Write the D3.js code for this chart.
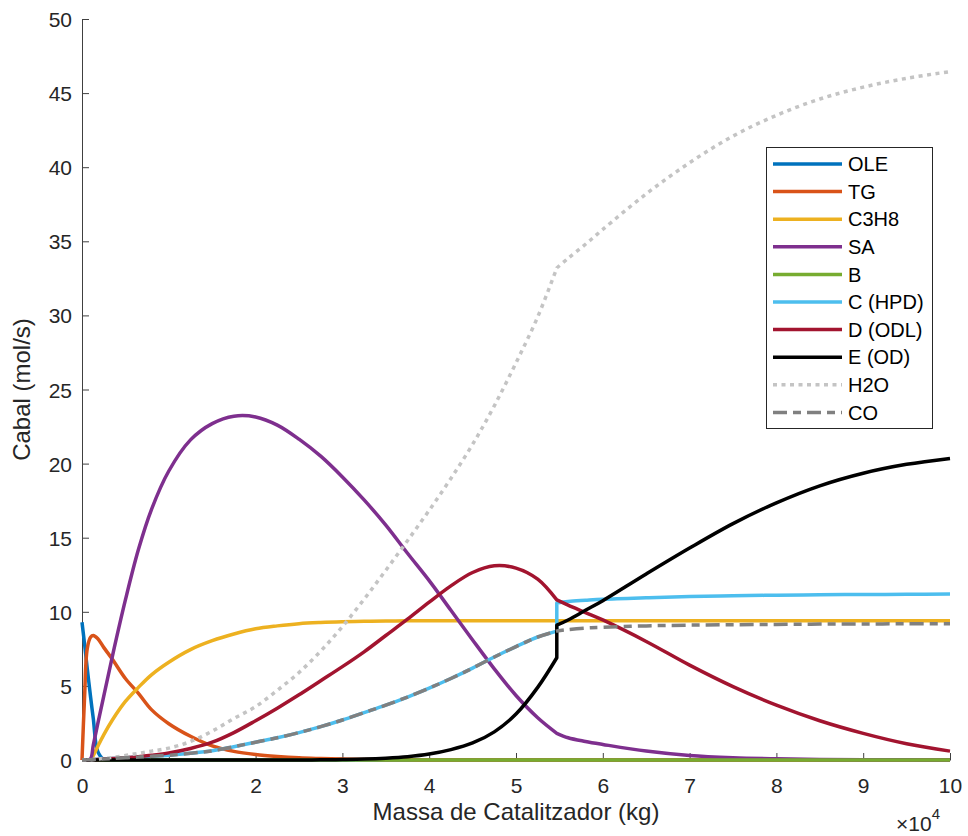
<!DOCTYPE html>
<html>
<head>
<meta charset="utf-8">
<script src="https://cdn.jsdelivr.net/npm/d3@7"></script>
<style>
  html, body { margin: 0; padding: 0; background: #fff; }
  svg { display: block; font-family: "Liberation Sans", Arial, Helvetica, sans-serif; }
</style>
</head>
<body>
<svg id="chart" width="968" height="836"></svg>
<script>
// x in units of 10^4 kg
const xs = [0, 0.03, 0.06, 0.1, 0.13, 0.18, 0.25, 0.35, 0.5, 0.65, 0.8, 1, 1.25, 1.5, 1.75, 2, 2.25, 2.5, 2.75, 3, 3.25, 3.5, 3.75, 4, 4.25, 4.5, 4.75, 5, 5.25, 5.47,
            5.47, 5.6, 5.8, 6, 6.5, 7, 7.5, 8, 8.5, 9, 9.5, 10];
const jumpIndex = 30;

const OLE  = [9.3, 7.8, 6.2, 4.2, 2.8, 0.6, 0.05, 0, 0, 0, 0, 0, 0, 0, 0, 0, 0, 0, 0, 0, 0, 0, 0, 0, 0, 0, 0, 0, 0, 0,
              0, 0, 0, 0, 0, 0, 0, 0, 0, 0, 0, 0];
const TG   = [0, 4.3, 7.5, 8.3, 8.4, 8.2, 7.6, 6.8, 5.5, 4.5, 3.4, 2.45, 1.6, 0.95, 0.58, 0.37, 0.24, 0.15, 0.1, 0.06, 0.04, 0.02, 0.01, 0, 0, 0, 0, 0, 0, 0,
              0, 0, 0, 0, 0, 0, 0, 0, 0, 0, 0, 0];
const C3H8 = [0, 0, 0, 0, 0.3, 0.9, 1.7, 2.7, 3.95, 4.9, 5.75, 6.6, 7.45, 8.05, 8.5, 8.85, 9.05, 9.2, 9.28, 9.33, 9.36, 9.38, 9.39, 9.4, 9.4, 9.4, 9.4, 9.4, 9.4, 9.4,
              9.4, 9.4, 9.4, 9.4, 9.4, 9.4, 9.4, 9.4, 9.4, 9.4, 9.4, 9.4];
const SA   = [0, 0, 0, 0.1, 1.0, 2.4, 4.3, 7.0, 10.8, 14.2, 16.9, 19.5, 21.6, 22.7, 23.2, 23.15, 22.6, 21.65, 20.5, 19.1, 17.55, 15.85, 13.95, 12.1, 10.1, 8.1, 6.15, 4.35, 2.85, 1.8,
              1.8, 1.5, 1.25, 1.05, 0.6, 0.3, 0.15, 0.08, 0.04, 0.02, 0.01, 0];
const B    = [0, 0, 0, 0, 0, 0, 0, 0, 0, 0, 0, 0, 0, 0, 0, 0, 0, 0, 0, 0, 0, 0, 0, 0, 0, 0, 0, 0, 0, 0,
              0, 0, 0, 0, 0, 0, 0, 0, 0, 0, 0, 0];
const C_HPD = [0, 0, 0.01, 0.02, 0.03, 0.05, 0.07, 0.1, 0.15, 0.2, 0.25, 0.32, 0.45, 0.62, 0.9, 1.2, 1.5, 1.85, 2.25, 2.7, 3.2, 3.7, 4.25, 4.85, 5.5, 6.2, 6.95, 7.65, 8.3, 8.7,
               10.6, 10.7, 10.78, 10.85, 10.95, 11.03, 11.08, 11.12, 11.15, 11.17, 11.18, 11.2];
const D_ODL = [0, 0, 0, 0.01, 0.02, 0.04, 0.07, 0.1, 0.15, 0.22, 0.32, 0.48, 0.78, 1.2, 1.85, 2.65, 3.5, 4.4, 5.35, 6.3, 7.3, 8.4, 9.5, 10.65, 11.75, 12.65, 13.1, 12.95, 12.2, 10.8,
               10.8, 10.45, 9.95, 9.45, 8.0, 6.4, 4.95, 3.7, 2.65, 1.8, 1.1, 0.6];
const E_OD  = [0, 0, 0, 0, 0, 0, 0, 0, 0, 0, 0, 0, 0, 0, 0, 0, 0, 0, 0.01, 0.03, 0.06, 0.12, 0.22, 0.4, 0.7, 1.15, 1.9, 3.1, 4.9, 6.9,
               9.1, 9.45, 10.1, 10.75, 12.55, 14.3, 15.95, 17.35, 18.5, 19.35, 19.95, 20.35];
const H2O   = [0, 0, 0.01, 0.02, 0.03, 0.06, 0.1, 0.17, 0.3, 0.45, 0.6, 0.8, 1.25, 1.95, 2.8, 3.6, 4.7, 5.9, 7.35, 9.0, 10.85, 12.8, 14.8, 16.85, 19.0, 21.3, 23.9, 26.8, 29.9, 33.2,
               33.2, 33.85, 34.8, 35.8, 38.2, 40.3, 42.1, 43.5, 44.6, 45.4, 46.0, 46.45];
const CO    = [0, 0, 0.01, 0.02, 0.03, 0.05, 0.07, 0.1, 0.15, 0.2, 0.25, 0.32, 0.45, 0.62, 0.9, 1.2, 1.5, 1.85, 2.25, 2.7, 3.2, 3.7, 4.25, 4.85, 5.5, 6.2, 6.95, 7.65, 8.3, 8.7,
               8.7, 8.8, 8.9, 8.95, 9.05, 9.1, 9.13, 9.15, 9.17, 9.18, 9.19, 9.2];

const seriesNames = ["OLE", "TG", "C3H8", "SA", "B", "C (HPD)", "D (ODL)", "E (OD)", "H2O", "CO"];
const seriesData  = [OLE, TG, C3H8, SA, B, C_HPD, D_ODL, E_OD, H2O, CO];
const seriesColors = ["#0072BD", "#D95319", "#EDB120", "#7E2F8E", "#77AC30", "#4DBEEE", "#A2142F", "#000000", "#C4C4C4", "#808080"];
const seriesDash = [null, null, null, null, null, null, null, null, "4,4.5", "14,6,8,6"];

const xTicks = [0, 1, 2, 3, 4, 5, 6, 7, 8, 9, 10];
const yTicks = [0, 5, 10, 15, 20, 25, 30, 35, 40, 45, 50];

const svg = d3.select("#chart");
const L = 82, R = 950, T = 19, Bt = 760;
const x = d3.scaleLinear().domain([0, 10]).range([L, R]);
const y = d3.scaleLinear().domain([0, 50]).range([Bt, T]);

// axes
const axisColor = "#404040";
const gx = svg.append("g").attr("transform", `translate(0,${Bt})`)
  .call(d3.axisBottom(x).tickValues(xTicks).tickFormat(d3.format("d")).tickSizeInner(-7).tickSizeOuter(0).tickPadding(18));
const gy = svg.append("g").attr("transform", `translate(${L},0)`)
  .call(d3.axisLeft(y).tickValues(yTicks).tickFormat(d3.format("d")).tickSizeInner(-7).tickSizeOuter(0).tickPadding(10));
[gx, gy].forEach(g => {
  g.select(".domain").attr("stroke", axisColor).attr("stroke-width", 1);
  g.selectAll(".tick line").attr("stroke", axisColor).attr("stroke-width", 1);
  g.selectAll(".tick text").attr("fill", "#262626").style("font-size", "21px")
    .style("font-family", '"Liberation Sans", Arial, sans-serif');
});
gy.selectAll(".tick text").attr("dy", "0.36em");

// axis titles
svg.append("text").attr("x", (L + R) / 2).attr("y", 820).attr("text-anchor", "middle")
  .attr("fill", "#262626").style("font-size", "24px").text("Massa de Catalitzador (kg)");
svg.append("text").attr("transform", `translate(30,${(T + Bt) / 2}) rotate(-90)`).attr("text-anchor", "middle")
  .attr("fill", "#262626").style("font-size", "24px").text("Cabal (mol/s)");
// exponent
const ex = svg.append("text").attr("x", 896).attr("y", 831).attr("fill", "#262626").style("font-size", "21px");
ex.append("tspan").text("\u00D710");
ex.append("tspan").attr("dy", -12).style("font-size", "15px").text("4");

// lines
const line = d3.line().x(d => x(d[0])).y(d => y(d[1])).curve(d3.curveCatmullRom.alpha(0.5));
function pathFor(vals) {
  const pts = xs.map((xv, i) => [xv, vals[i]]);
  const a = line(pts.slice(0, jumpIndex));
  const b = line(pts.slice(jumpIndex));
  return a + b.replace(/^M/, "L");
}
seriesData.forEach((vals, i) => {
  const p = svg.append("path").attr("d", pathFor(vals))
    .attr("fill", "none").attr("stroke", seriesColors[i]).attr("stroke-width", 3.5)
    .attr("stroke-linejoin", "round");
  if (seriesDash[i]) p.attr("stroke-dasharray", seriesDash[i]);
});

// legend
const lg = svg.append("g");
lg.append("rect").attr("x", 766.5).attr("y", 147.5).attr("width", 166).attr("height", 281)
  .attr("fill", "#fff").attr("stroke", "#262626").attr("stroke-width", 1);
seriesNames.forEach((name, i) => {
  const yy = 164 + i * 27.6;
  const l = lg.append("line").attr("x1", 773).attr("x2", 842).attr("y1", yy).attr("y2", yy)
    .attr("stroke", seriesColors[i]).attr("stroke-width", 3.5);
  if (seriesDash[i]) l.attr("stroke-dasharray", seriesDash[i]);
  lg.append("text").attr("x", 848).attr("y", yy).attr("dy", "0.36em").attr("fill", "#000")
    .style("font-size", "20px").text(name);
});
</script>
</body>
</html>
